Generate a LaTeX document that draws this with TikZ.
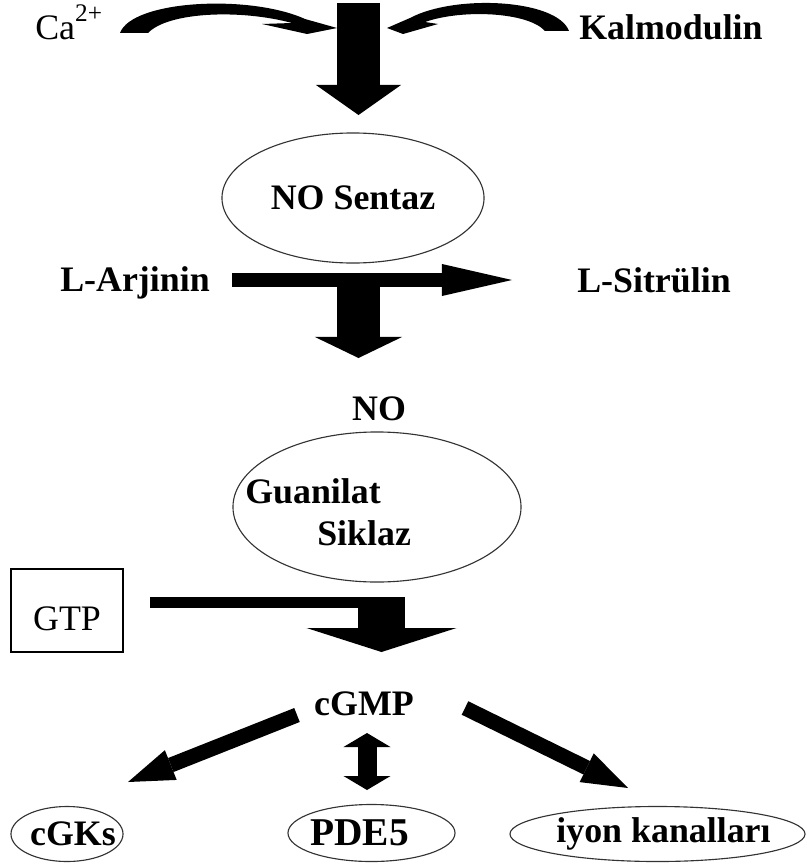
\documentclass[tikz,border=0pt]{standalone}
\usepackage{fontspec}
\setmainfont{Liberation Serif}
\usetikzlibrary{arrows.meta, shapes.geometric}

\tikzset{
  lbl/.style={inner sep=0pt, anchor=base},
  bubble/.style={ellipse, draw=black!80, line width=0.8pt, inner sep=0pt},
  fat/.style n args={3}{line width=#1, -{Triangle[width=#2, length=#3, line width=0pt]}},
  fatboth/.style n args={3}{line width=#1, {Triangle[width=#2, length=#3, line width=0pt]}-{Triangle[width=#2, length=#3, line width=0pt]}},
}

\begin{document}
\begin{tikzpicture}[x=0.025cm, y=-0.025cm, font=\bfseries\fontsize{25.5}{30}\selectfont]
\useasboundingbox (0,0) rectangle (807,867);

% top
\node[lbl, anchor=base west, font=\mdseries\fontsize{25.5}{30}\selectfont] (ca) at (35,40)
  {Ca\raisebox{13.5pt}{\fontsize{18}{18}\selectfont 2+}};
\node[lbl, anchor=base west] (kal) at (579,40) {Kalmodulin};

% Ca and Kalmodulin swooshes
\fill (120,33) .. controls (132,0) and (250,-6) .. (305,19) -- (337,28) -- (307,34)
  -- (262,24) -- (292,23) .. controls (240,9) and (168,12) .. (148,33) -- cycle;
\fill (569,31) .. controls (557,-1) and (455,-6) .. (410,18) -- (387,28) -- (403,34)
  -- (438,24) -- (425,22) .. controls (462,9) and (528,12) .. (545,31) -- cycle;

\coordinate (mainS) at (358.5,3);
\coordinate (mainE) at (358.5,115);
\draw[fat={1.075cm}{2.125cm}{0.75cm}] (mainS) -- (mainE);

\node[bubble, minimum width=6.55cm, minimum height=3.25cm] (nos) at (353,198) {NO Sentaz};

% L-Arjinin -> L-Sitrulin
\node[lbl, anchor=base west] (arg) at (60,291) {L-Arjinin};
\node[lbl, anchor=base west] (cit) at (577,292) {L-Sitrülin};
\coordinate (argS) at (232,280);
\coordinate (argE) at (512,280);
\coordinate (noS) at (358.5,280);
\coordinate (noE) at (358.5,358);
\draw[fat={0.35cm}{0.8cm}{1.75cm}] (argS) -- (argE);
\draw[fat={1.075cm}{2.175cm}{0.525cm}] (noS) -- (noE);

\node[lbl] (no) at (379,420) {NO};

% guanilat siklaz
\node[bubble, minimum width=7.2cm, minimum height=3.75cm] (gcy) at (377,507) {};
\node[lbl, anchor=base west] (gcyA) at (245,503) {Guanilat};
\node[lbl, anchor=base west] (gcyB) at (317,545) {Siklaz};

% GTP -> cGMP
\node[draw, line width=0.8pt, minimum width=2.8cm, minimum height=2.075cm,
  text height=0.975cm, text depth=0pt, font=\mdseries\fontsize{25.5}{30}\selectfont] (gtp) at (67,610.5) {GTP};
\coordinate (gtpS) at (150,602.5);
\coordinate (gtpK) at (405,602.5);
\coordinate (gmpS) at (381.5,597);
\coordinate (gmpE) at (381.5,652);
\draw[line width=0.275cm] (gtpS) -- (gtpK);
\draw[fat={1.175cm}{3.75cm}{0.6cm}] (gmpS) -- (gmpE);

\node[lbl] (cgmp) at (364,715) {cGMP};

% targets
\node[bubble, minimum width=2.8cm, minimum height=1.375cm,
  label={[xshift=0.15cm]center:cGKs}] (cgk) at (67,834) {};
\node[bubble, minimum width=4.175cm, minimum height=1.425cm,
  label={[xshift=-0.3cm, font=\bfseries\fontsize{28}{32}\selectfont]center:PDE5}] (pde) at (371.5,833) {};
\node[bubble, minimum width=7.375cm, minimum height=1.375cm,
  label={[xshift=0.15cm]center:iyon kanalları}] (ion) at (657.5,834) {};

\coordinate (cgkS) at (297,715);
\coordinate (cgkE) at (128,782);
\coordinate (ionS) at (465,708);
\coordinate (ionE) at (628,788);
\coordinate (pdeS) at (367,733);
\coordinate (pdeE) at (367,790);
\draw[fat={0.375cm}{0.8cm}{1.15cm}] (cgkS) -- (cgkE);
\draw[fat={0.375cm}{0.8cm}{1.15cm}] (ionS) -- (ionE);
\draw[fatboth={0.475cm}{1.175cm}{0.35cm}] (pdeS) -- (pdeE);
\end{tikzpicture}
\end{document}
